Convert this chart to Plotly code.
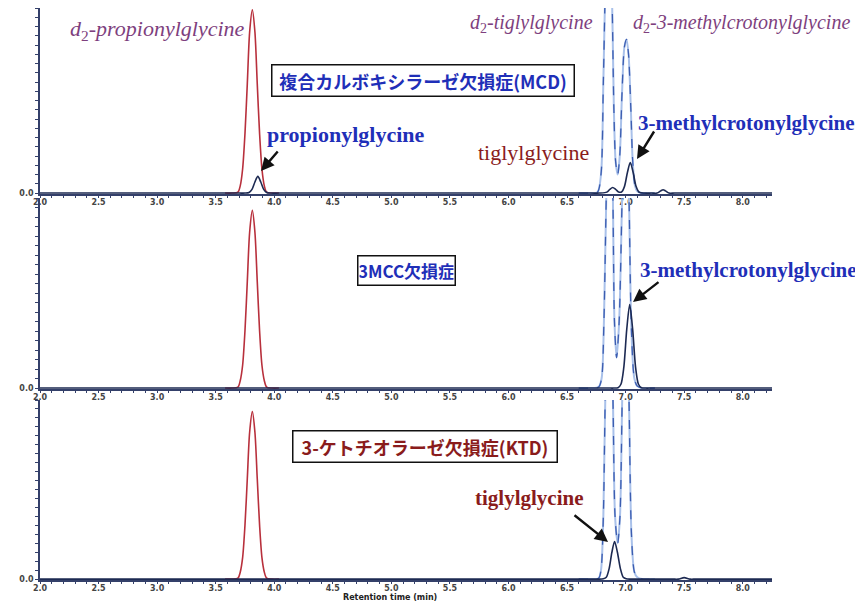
import plotly.graph_objects as go

# ---------------- data ----------------
# retention time (min) / relative intensity, per panel
# red: d2-propionylglycine (internal standard)
red_x = [3.58, 3.64, 3.69, 3.71, 3.73, 3.75, 3.77, 3.79, 3.813, 3.835, 3.855, 3.875, 3.895, 3.915, 3.935, 3.98, 4.04]
red_y1 = [0, 0, 0.005, 0.04, 0.13, 0.32, 0.59, 0.87, 0.99, 0.87, 0.59, 0.32, 0.13, 0.04, 0.005, 0, 0]
red_y2 = [0, 0, 0.005, 0.04, 0.12, 0.30, 0.56, 0.82, 0.935, 0.82, 0.56, 0.30, 0.12, 0.04, 0.005, 0, 0]
red_y3 = [0, 0, 0.005, 0.04, 0.12, 0.30, 0.56, 0.82, 0.935, 0.82, 0.56, 0.30, 0.12, 0.04, 0.005, 0, 0]

# dark: analytes (propionylglycine, tiglylglycine, 3-methylcrotonylglycine)
dark_x1 = [2.0, 3.5, 3.70, 3.75, 3.785, 3.81, 3.835, 3.86, 3.885, 3.91, 3.935, 3.97, 4.05,
           6.70, 6.78, 6.84, 6.865, 6.89, 6.915, 6.94,
           6.965, 6.99, 7.015, 7.04, 7.065, 7.09, 7.115, 7.16, 7.22, 7.27, 7.30, 7.32, 7.34, 7.37,
           7.42, 7.6, 8.25]
dark_y1 = [0, 0, 0, 0, 0.003, 0.02, 0.06, 0.09, 0.06, 0.02, 0.003, 0, 0,
           0, 0, 0.005, 0.02, 0.03, 0.02, 0.006,
           0.006, 0.035, 0.11, 0.165, 0.11, 0.035, 0.005, 0, 0, 0, 0.012, 0.018, 0.012, 0,
           0, 0, 0]
dark_x2 = [2.0, 6.6, 6.85, 6.90, 6.935, 6.96, 6.985, 7.01, 7.035, 7.06, 7.085, 7.11, 7.135, 7.17, 7.22, 7.5, 8.25]
dark_y2 = [0, 0, 0, 0, 0.002, 0.02, 0.11, 0.31, 0.44, 0.31, 0.11, 0.02, 0.002, 0, 0, 0, 0]
dark_x3 = [2.0, 6.5, 6.72, 6.77, 6.81, 6.835, 6.86, 6.883, 6.906, 6.93, 6.955, 6.98, 7.005,
           7.04, 7.10, 7.40, 7.45, 7.50, 7.55, 7.6, 8.25]
dark_y3 = [0, 0, 0, 0, 0.002, 0.01, 0.06, 0.15, 0.21, 0.15, 0.06, 0.01, 0.002,
           0, 0, 0, 0, 0.008, 0, 0, 0]

# dashed blue: d2-tiglylglycine and d2-3-methylcrotonylglycine
dash_x1 = [6.60, 6.70, 6.76, 6.79, 6.81, 6.83, 6.855, 6.88, 6.90, 6.915, 6.932, 6.95, 6.97, 6.99, 7.008,
           7.025, 7.045, 7.06, 7.08, 7.10, 7.14, 7.25]
dash_y1 = [0, 0, 0.005, 0.1, 0.6, 1.2, 1.6, 1.2, 0.45, 0.17, 0.10, 0.2, 0.55, 0.79, 0.83,
           0.75, 0.45, 0.18, 0.04, 0.01, 0, 0]
dash_x2 = [6.60, 6.70, 6.77, 6.795, 6.815, 6.838, 6.863, 6.889, 6.905, 6.923, 6.945, 6.974, 7.0, 7.026,
           7.05, 7.075, 7.10, 7.14, 7.25]
dash_y2 = [0, 0, 0.005, 0.05, 0.35, 1.1, 1.6, 1.1, 0.35, 0.16, 0.35, 1.1, 1.6, 1.1, 0.3, 0.05, 0.01, 0, 0]
dash_x3 = [6.60, 6.70, 6.77, 6.79, 6.81, 6.829, 6.859, 6.889, 6.91, 6.932, 6.952, 6.974, 7.0, 7.026,
           7.05, 7.075, 7.10, 7.14, 7.25]
dash_y3 = [0, 0, 0.005, 0.05, 0.35, 1.1, 1.6, 1.1, 0.35, 0.2, 0.35, 1.1, 1.6, 1.1, 0.25, 0.04, 0.01, 0, 0]

x_tickvals = [2.0, 2.5, 3.0, 3.5, 4.0, 4.5, 5.0, 5.5, 6.0, 6.5, 7.0, 7.5, 8.0]
x_ticktext = ["2.0", "2.5", "3.0", "3.5", "4.0", "4.5", "5.0", "5.5", "6.0", "6.5", "7.0", "7.5", "8.0"]

panels = [
    (red_y1, dark_x1, dark_y1, dash_x1, dash_y1),
    (red_y2, dark_x2, dark_y2, dash_x2, dash_y2),
    (red_y3, dark_x3, dark_y3, dash_x3, dash_y3),
]

# ---------------- figure ----------------
# the page body has an 8px margin, so the figure is drawn 8px in from the window edge
OFF = 8
W, H = 863 - OFF, 602 - OFF
L, R = 40 - OFF, 91
def px(x): return (x - OFF - L) / (W - L - R)
def py(y): return min(1.0, 1 - (y - OFF) / H)

domains = [(py(194), py(5)), (py(389), py(198)), (py(580), py(400))]

RED = "#b8303c"
DARK = "#1d2a52"
DASH_LIGHT = "#a9c1ea"
DASH_DARK = "#3c5db0"
AXIS = "#34406a"

fig = go.Figure()
for i, (ry, dx, dy, sx, sy) in enumerate(panels, start=1):
    xa = "x" if i == 1 else f"x{i}"
    ya = "y" if i == 1 else f"y{i}"
    fig.add_trace(go.Scatter(x=sx, y=sy, mode="lines", line=dict(color=DASH_LIGHT, width=2, shape="spline", smoothing=0.8),
                             xaxis=xa, yaxis=ya, showlegend=False, hoverinfo="skip"))
    fig.add_trace(go.Scatter(x=sx, y=sy, mode="lines", line=dict(color=DASH_DARK, width=1.3, dash="dash", shape="spline", smoothing=0.8),
                             xaxis=xa, yaxis=ya, showlegend=False, hoverinfo="skip"))
    fig.add_trace(go.Scatter(x=red_x, y=ry, mode="lines", line=dict(color=RED, width=1.6, shape="spline", smoothing=0.8),
                             xaxis=xa, yaxis=ya, showlegend=False, hoverinfo="skip"))
    fig.add_trace(go.Scatter(x=dx, y=dy, mode="lines", line=dict(color=DARK, width=1.6, shape="spline", smoothing=0.8),
                             xaxis=xa, yaxis=ya, showlegend=False, hoverinfo="skip"))

    xkey = "xaxis" if i == 1 else f"xaxis{i}"
    ykey = "yaxis" if i == 1 else f"yaxis{i}"
    fig.layout[xkey] = dict(
        domain=[0, 1], anchor=ya, range=[2.0, 8.25], automargin=False,
        showline=True, linecolor=AXIS, linewidth=1.5, showgrid=False, zeroline=False,
        tickmode="array", tickvals=x_tickvals, ticktext=x_ticktext,
        ticks="outside", ticklen=2, tickcolor=AXIS, ticklabelstandoff=-2,
        tickfont=dict(family="DejaVu Sans", size=8, color="#444444", weight="bold"),
        minor=dict(tickmode="linear", tick0=2.0, dtick=0.1, ticks="outside", ticklen=2, tickcolor=AXIS),
    )
    fig.layout[ykey] = dict(
        domain=list(domains[i - 1]), anchor=xa, range=[-0.005, 1.0], automargin=False,
        showline=True, linecolor=AXIS, linewidth=1.8, showgrid=False, zeroline=False,
        tickmode="array", tickvals=[0], ticktext=["0.0"],
        ticks="outside", ticklen=3, tickcolor=AXIS,
        tickfont=dict(family="DejaVu Sans", size=8, color="#444444", weight="bold"),
        minor=dict(tickmode="linear", tick0=0, dtick=0.05, ticks="outside", ticklen=3, tickcolor=AXIS),
    )

SERIF = "Liberation Serif"
PURPLE = "#7e3f7e"
BLUE = "#1f2fb8"
DRED = "#8a1c1c"
CJK = "Noto Sans CJK JP"

def text(x, y, s, size, color, family=SERIF, weight="normal"):
    fig.add_annotation(x=px(x), y=py(y), xref="paper", yref="paper", text=s, showarrow=False,
                       xanchor="center", yanchor="middle",
                       font=dict(family=family, size=size, color=color, weight=weight))

def box(x, y, s, color, w, h, size):
    fig.add_annotation(x=px(x), y=py(y), xref="paper", yref="paper", text=s, showarrow=False,
                       xanchor="center", yanchor="middle", width=w, height=h, align="center",
                       bordercolor="#111111", borderwidth=1.5, borderpad=1, bgcolor="white",
                       font=dict(family=CJK, size=size, color=color, weight="bold"))

def arrow(hx, hy, tx, ty):
    fig.add_annotation(x=px(hx), y=py(hy), xref="paper", yref="paper", text="", showarrow=True,
                       ax=tx - hx, ay=ty - hy, axref="pixel", ayref="pixel",
                       arrowhead=2, arrowsize=1.1, arrowwidth=2.4, arrowcolor="#111111")

text(157, 30, "<i>d</i><sub>2</sub><i>-propionylglycine</i>", 22, PURPLE)
text(531, 24, "<i>d</i><sub>2</sub><i>-tiglylglycine</i>", 20, PURPLE)
text(741, 23, "<i>d</i><sub>2</sub><i>-3-methylcrotonylglycine</i>", 20, PURPLE)

box(423, 81, "複合カルボキシラーゼ欠損症(MCD)", BLUE, 299, 28, 18)
text(346, 135, "propionylglycine", 22, BLUE, weight="bold")
text(533, 152, "tiglylglycine", 22, DRED)
text(746, 123, "3-methylcrotonylglycine", 21, BLUE, weight="bold")

box(406, 270, "3MCC欠損症", BLUE, 94, 26, 17)
text(748, 270, "3-methylcrotonylglycine", 21, BLUE, weight="bold")

box(425, 446, "3-ケトチオラーゼ欠損症(KTD)", DRED, 261, 28, 18)
text(529, 498, "tiglylglycine", 21, DRED, weight="bold")

text(390, 597, "Retention time (min)", 8, "#222222", family="DejaVu Sans", weight="bold")

arrow(261, 171, 279, 150)
arrow(637, 159, 655, 130)
arrow(633, 302, 660, 281)
arrow(608, 542, 573, 514)

fig.update_layout(
    width=W, height=H, margin=dict(l=L, r=R, t=0, b=0),
    paper_bgcolor="white", plot_bgcolor="white",
)

fig.write_html("out.html")
